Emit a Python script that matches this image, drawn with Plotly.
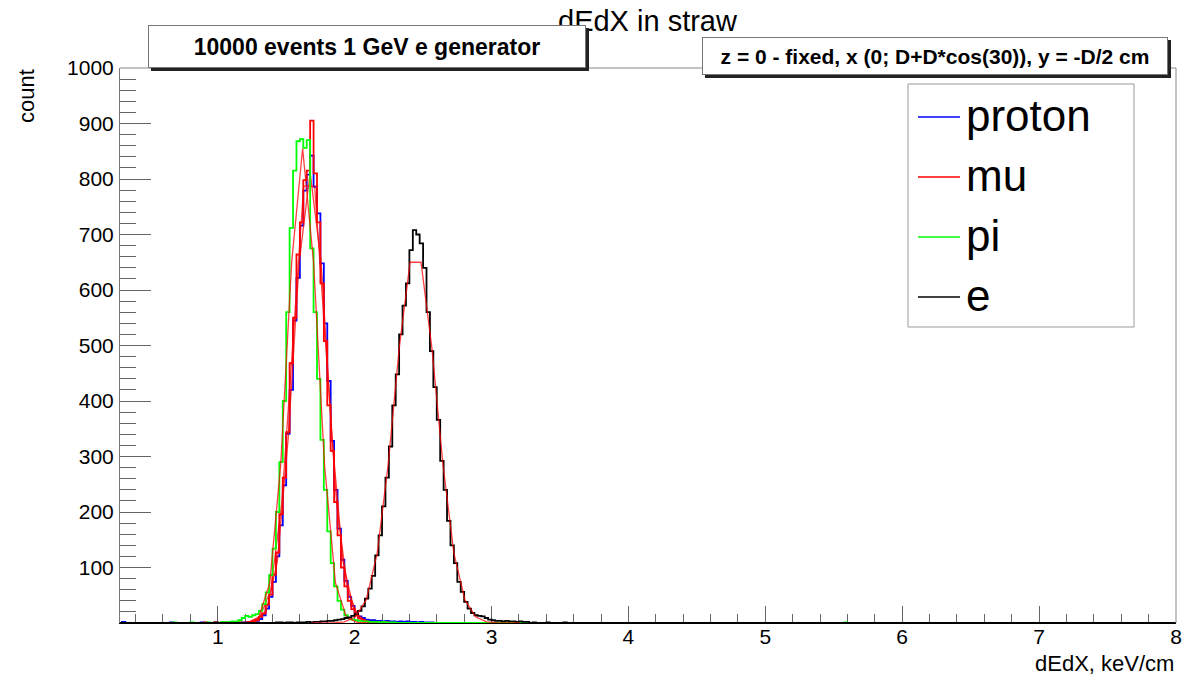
import numpy as np
import plotly.graph_objects as go

# ---------------- data ----------------
bin_width = 0.025
hist_lo, hist_hi = 0.275, 8.0
x_range = [0.286, 8.0]
y_range = [0, 1000]
x_tickvals = [1, 2, 3, 4, 5, 6, 7, 8]
y_tickvals = [100, 200, 300, 400, 500, 600, 700, 800, 900, 1000]

legend_labels = ["proton", "mu", "pi", "e"]
legend_colors = ["#0000ff", "#ff0000", "#00ff00", "#000000"]

# proton (blue)
proton_first_center = 1.1375
proton_counts = [1, 0, 1, 1, 2, 2, 4, 7, 14, 26, 47, 74, 120, 176, 248, 341, 420, 545, 622, 716,
                 779, 808, 842, 786, 738, 648, 540, 436, 328, 240, 170, 114, 76, 47, 31, 19, 12, 9,
                 6, 5, 5, 4, 4, 3, 4, 3, 3, 2, 3, 2, 3, 2, 2, 1, 2, 1, 1, 1]
proton_extra_centers = [0.3125, 0.6625, 0.8875, 1.0375]
proton_extra_counts = [2, 1, 1, 1]

# mu (red)
mu_first_center = 1.1375
mu_counts = [1, 1, 0, 1, 2, 3, 5, 11, 17, 33, 51, 87, 127, 196, 262, 344, 468, 550, 664, 722,
             798, 815, 905, 810, 722, 612, 508, 392, 310, 218, 158, 100, 66, 40, 25, 14, 8, 5,
             3, 2, 2, 1, 1, 0, 1]
mu_extra_centers = [0.9125, 0.9875, 1.0625]
mu_extra_counts = [1, 1, 1]

# pi (green)
pi_first_center = 1.0375
pi_counts = [2, 1, 2, 3, 3, 5, 9, 13, 11, 14, 16, 22, 34, 55, 86, 134, 200, 290, 400, 560,
             712, 815, 868, 872, 856, 870, 675, 560, 440, 330, 240, 165, 108, 66, 40, 24, 14, 9,
             6, 5, 4, 3, 3, 2, 2, 2, 1, 2, 1, 1, 1]
pi_extra_centers = [0.6875, 0.8125, 0.9375, 5.5875]
pi_extra_counts = [1, 1, 1, 1]

# e (black)
e_first_center = 1.5125
e_counts = [1, 1, 0, 1, 1, 1, 2, 1, 2, 2, 3, 3, 4, 4, 5, 6, 7, 9, 10, 13, 16, 22, 30, 44, 62,
            85, 122, 158, 210, 262, 318, 392, 448, 520, 572, 612, 672, 708, 700, 684, 640, 560,
            490, 425, 366, 292, 240, 184, 140, 108, 74, 56, 38, 26, 18, 14, 13, 12, 9, 6, 5, 4,
            4, 3, 4, 3, 3, 2, 3, 2, 2]
e_extra_centers = [0.9875, 1.4375, 1.4625, 3.3125, 3.4125, 3.5375]
e_extra_counts = [1, 1, 1, 1, 1, 1]

# gaussian fit curves (sampled points, drawn as polylines)
fit_proton_x = [1.195, 1.275, 1.355, 1.435, 1.515, 1.595, 1.675, 1.755, 1.835, 1.915, 1.995, 2.075, 2.155]
fit_proton_y = [0.3, 3.2, 23, 110, 334, 650, 812, 650, 334, 110, 23, 3.2, 0.3]
fit_mu_x = [1.148, 1.228, 1.308, 1.388, 1.468, 1.548, 1.628, 1.708, 1.788, 1.868, 1.948, 2.028, 2.108, 2.188]
fit_mu_y = [0.1, 1.2, 10.6, 60, 217, 511, 787, 787, 511, 217, 60, 10.6, 1.2, 0.1]
fit_pi_x = [1.14, 1.22, 1.30, 1.38, 1.46, 1.54, 1.62, 1.70, 1.78, 1.86, 1.94, 2.02, 2.10]
fit_pi_y = [0, 0.9, 10.6, 72, 285, 650, 855, 650, 285, 72, 10.6, 0.9, 0]
fit_e_x = [1.685, 1.765, 1.845, 1.925, 2.005, 2.085, 2.165, 2.245, 2.325, 2.405,
           2.485, 2.565, 2.645, 2.725, 2.805, 2.885, 2.965, 3.045, 3.125, 3.205]
fit_e_y = [0, 0, 0.3, 2.1, 10.8, 42, 126, 286, 494, 650, 650, 494, 286, 126, 42, 10.8, 2.1, 0.3, 0, 0]

title_text = "dEdX in straw"
box1_text = "10000 events 1 GeV e generator"
box2_text = "z = 0 - fixed, x (0; D+D*cos(30)), y = -D/2 cm"
x_title = "dEdX, keV/cm"
y_title = "count"

# ---------------- build ----------------
edges = np.round(np.arange(hist_lo, hist_hi + 1e-9, bin_width), 4)
nbins = len(edges) - 1


def full_hist(first_center, counts, extra_c, extra_n):
    h = np.zeros(nbins)
    i0 = int(round((first_center - hist_lo) / bin_width - 0.5))
    for k, v in enumerate(counts):
        h[i0 + k] = v
    for c, v in zip(extra_c, extra_n):
        h[int(round((c - hist_lo) / bin_width - 0.5))] = v
    return h


hists = [
    full_hist(proton_first_center, proton_counts, proton_extra_centers, proton_extra_counts),
    full_hist(mu_first_center, mu_counts, mu_extra_centers, mu_extra_counts),
    full_hist(pi_first_center, pi_counts, pi_extra_centers, pi_extra_counts),
    full_hist(e_first_center, e_counts, e_extra_centers, e_extra_counts),
]
fits = [(fit_proton_x, fit_proton_y), (fit_mu_x, fit_mu_y), (fit_pi_x, fit_pi_y), (fit_e_x, fit_e_y)]

FONT = "Liberation Sans, Arial, Helvetica, sans-serif"
fig = go.Figure()
for h, col, (fx, fy), name in zip(hists, legend_colors, fits, legend_labels):
    fig.add_trace(go.Scatter(x=edges, y=np.append(h, h[-1]), mode="lines", line_shape="hv",
                             line=dict(color=col, width=1.8), name=name, hoverinfo="skip"))
    fig.add_trace(go.Scatter(x=fx, y=fy, mode="lines", line=dict(color="rgba(255,0,0,0.75)", width=1.3),
                             hoverinfo="skip", name=name + " fit"))

L, R, T, B = 120, 20, 68, 52
W, H = 1196, 675
PW, PH = W - L - R, H - T - B


def px(xp):
    return (xp - L) / PW


def py(yp):
    return (H - B - yp) / PH


annotations = []
# title (drawn first so the boxes cover it)
annotations.append(dict(text=title_text, x=0.5, y=py(21), xref="paper", yref="paper",
                        xanchor="center", yanchor="middle", showarrow=False,
                        font=dict(family=FONT, size=29, color="black")))


def pave(x0, y0, x1, y1, text, size):
    w, hgt = x1 - x0, y1 - y0
    # shadow
    annotations.append(dict(text="", x=px(x0 + 3), y=py(y0 + 3), xref="paper", yref="paper",
                            xanchor="left", yanchor="top", showarrow=False, width=w, height=hgt,
                            bgcolor="#222222", bordercolor="#222222", borderwidth=1, borderpad=0))
    annotations.append(dict(text="<b>" + text + "</b>", x=px(x0), y=py(y0), xref="paper", yref="paper",
                            xanchor="left", yanchor="top", showarrow=False, width=w, height=hgt,
                            align="center", valign="middle",
                            bgcolor="white", bordercolor="#777777", borderwidth=1, borderpad=0,
                            font=dict(family=FONT, size=size, color="black")))


pave(148, 25, 584, 66, box1_text, 23)
pave(702, 37, 1166, 73, box2_text, 21)

annotations.append(dict(text=y_title, x=px(26), y=py(96), xref="paper", yref="paper",
                        xanchor="center", yanchor="middle", textangle=-90, showarrow=False,
                        font=dict(family=FONT, size=22, color="black")))
annotations.append(dict(text=x_title, x=1.0, y=py(663), xref="paper", yref="paper",
                        xanchor="right", yanchor="middle", showarrow=False,
                        font=dict(family=FONT, size=22, color="black")))

shapes = []
# frame top and right
shapes.append(dict(type="line", xref="paper", yref="paper", x0=0, x1=1, y0=1, y1=1,
                   line=dict(color="#888888", width=1)))
shapes.append(dict(type="line", xref="paper", yref="paper", x0=1, x1=1, y0=0, y1=1,
                   line=dict(color="#888888", width=1)))
# legend box
shapes.append(dict(type="rect", xref="paper", yref="paper", x0=px(908), x1=px(1134), y0=py(327), y1=py(84),
                   line=dict(color="#999999", width=1), fillcolor="white", layer="above"))
leg_y = [117, 177, 237, 297]
for lab, col, yy in zip(legend_labels, legend_colors, leg_y):
    shapes.append(dict(type="line", xref="paper", yref="paper", x0=px(918), x1=px(960), y0=py(yy), y1=py(yy),
                       line=dict(color=col, width=1.5), layer="above"))
    annotations.append(dict(text=lab, x=px(964), y=py(yy - 2), xref="paper", yref="paper",
                            xanchor="left", yanchor="middle", showarrow=False,
                            font=dict(family=FONT, size=44, color="black")))

fig.update_layout(
    width=W, height=H, autosize=False,
    margin=dict(l=L, r=R, t=T, b=B, pad=0),
    paper_bgcolor="white", plot_bgcolor="white",
    showlegend=False,
    annotations=annotations, shapes=shapes,
    xaxis=dict(range=x_range, showgrid=False, zeroline=False, showline=True, linecolor="black",
               linewidth=1, layer="below traces",
               tickmode="array", tickvals=x_tickvals, ticktext=[str(v) for v in x_tickvals],
               ticks="inside", ticklen=17, tickwidth=1, tickcolor="#666666", ticklabelstandoff=-5,
               tickfont=dict(family=FONT, size=21, color="black"),
               minor=dict(ticks="inside", dtick=0.2, tick0=0, ticklen=9, tickwidth=1, tickcolor="#666666",
                          showgrid=False)),
    yaxis=dict(range=y_range, showgrid=False, zeroline=False, showline=True, linecolor="#777777",
               linewidth=1, layer="below traces",
               tickmode="array", tickvals=y_tickvals, ticktext=[str(v) for v in y_tickvals],
               ticks="inside", ticklen=31, tickwidth=1, tickcolor="#666666", ticklabelstandoff=1,
               tickfont=dict(family=FONT, size=21, color="black"),
               minor=dict(ticks="inside", dtick=20, tick0=0, ticklen=16, tickwidth=1, tickcolor="#666666",
                          showgrid=False)),
)

fig.write_html("out.html")
